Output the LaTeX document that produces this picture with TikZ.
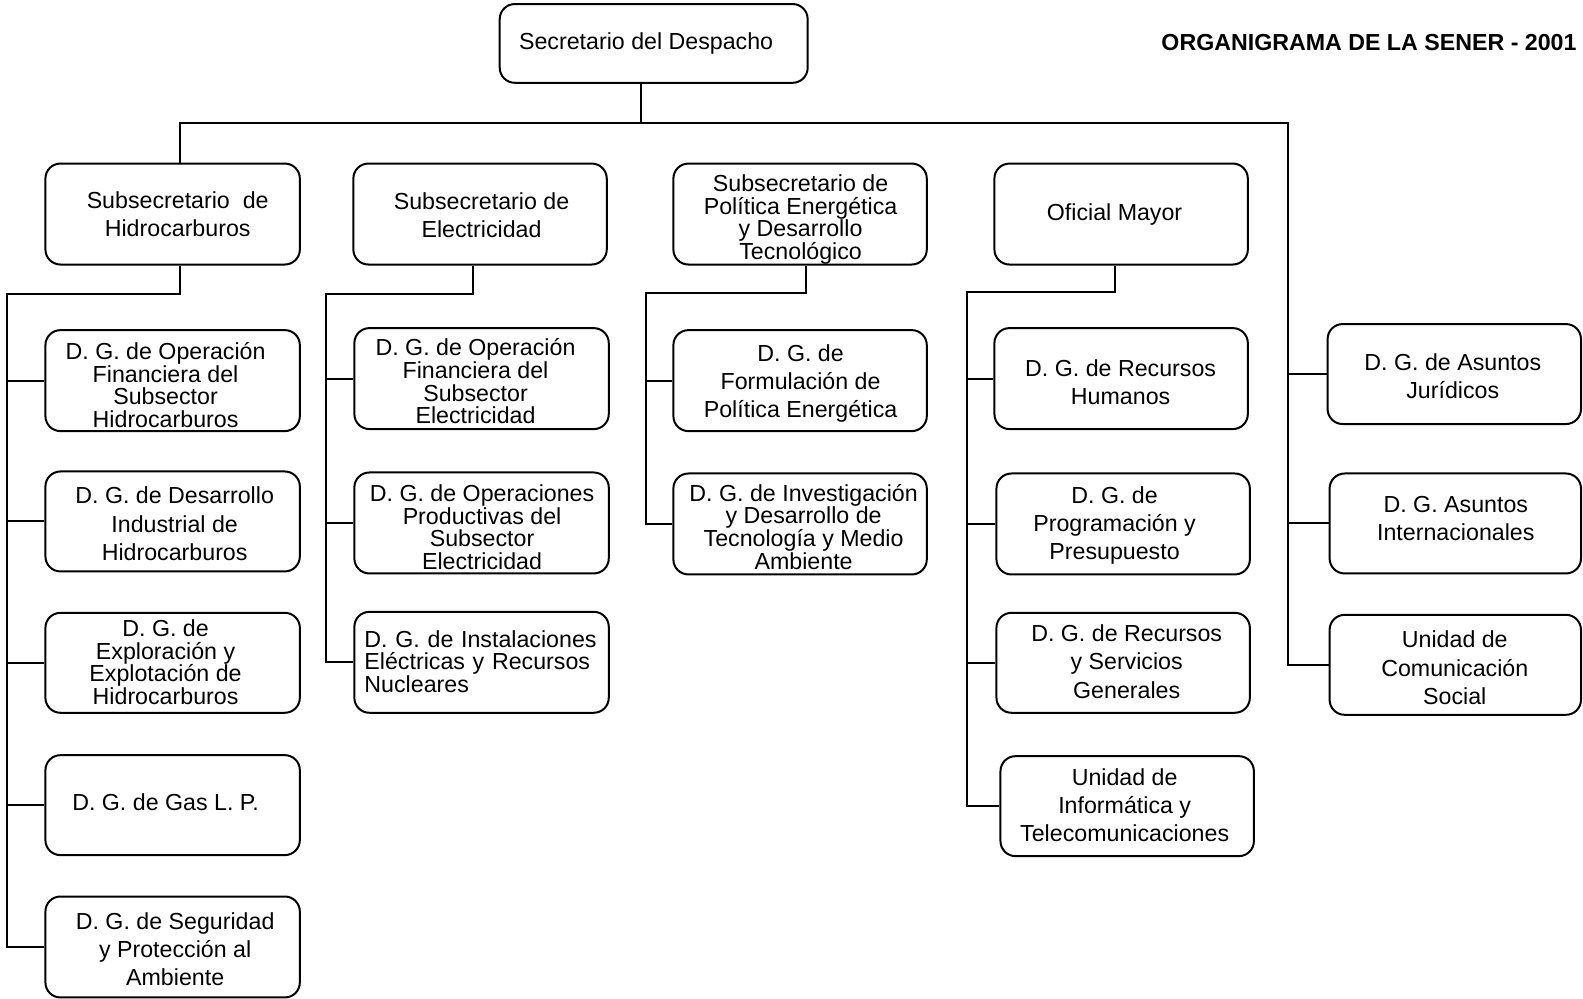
\documentclass[tikz,border=0pt]{standalone}
\usepackage{fontspec}
\setmainfont{Liberation Sans}
\usetikzlibrary{calc}

% fixed line pitch for the densely set labels
\newcommand{\tightskip}{\lineskiplimit=-20pt\relax}

\tikzset{
  orgbox/.style={draw, rounded corners=7.5pt, line width=1pt, inner sep=0pt},
  lbl/.style={inner sep=0pt, align=center, font=\fontsize{11.6}{14.1}\selectfont},
  lbltight/.style={inner sep=0pt, align=center,
    font={\fontsize{11.6}{11.3}\selectfont\tightskip}},
  wire/.style={line width=1pt},
  heading/.style={inner sep=0pt, anchor=east, font=\fontsize{11.6}{14}\selectfont\bfseries},
}

% \orgunit{name}{x1}{y1}{x2}{y2}: an empty rounded frame spanning the given corners
\newcommand{\orgunit}[5]{%
  \node[orgbox, minimum width={(#4-#2)*0.50478pt}, minimum height={(#5-#3)*0.50478pt}]
    (#1) at ({(#2+#4)/2},{(#3+#5)/2}) {};}

\begin{document}
\begin{tikzpicture}[x=0.50478pt, y=-0.50478pt]
\useasboundingbox (0,0) rectangle (1568,989);

% ---- frames ----
\orgunit{top}{495}{4}{800}{82}
\orgunit{s1}{45}{162}{297}{262}
\orgunit{s2}{350}{162}{601}{262}
\orgunit{s3}{667}{162}{918}{262}
\orgunit{s4}{985}{162}{1236}{262}

\orgunit{c1}{45}{327}{297}{427}
\orgunit{c2}{45}{467}{297}{566}
\orgunit{c3}{45}{607}{297}{706}
\orgunit{c4}{45}{748}{297}{847}
\orgunit{c5}{45}{888}{297}{988}

\orgunit{d1}{351}{325}{603}{425}
\orgunit{d2}{351}{468}{603}{568}
\orgunit{d3}{351}{606}{603}{706}

\orgunit{e1}{667}{327}{918}{427}
\orgunit{e2}{667}{469}{918}{569}

\orgunit{f1}{985}{325}{1236}{425}
\orgunit{f2}{987}{469}{1238}{569}
\orgunit{f3}{987}{607}{1238}{706}
\orgunit{f4}{991}{749}{1242}{848}

\orgunit{g1}{1315}{321}{1566}{420}
\orgunit{g2}{1317}{469}{1566}{568}
\orgunit{g3}{1317}{609}{1566}{708}

% ---- labels ----
\node[heading] (title) at (1562,44) {\strut ORGANIGRAMA DE LA SENER - 2001};
\node[lbl] (top-t) at (640,43) {\strut Secretario del Despacho};

\node[lbl] (s1-t) at (176,215) {\strut Subsecretario\ \ de\\Hidrocarburos\strut};
\node[lbl] (s2-t) at (477,216) {\strut Subsecretario de\\Electricidad\strut};
\node[lbltight] (s3-t) at (793,218.5) {\strut Subsecretario de\\Política Energética\\y Desarrollo\\Tecnológico\strut};
\node[lbl] (s4-t) at (1104,213) {\strut Oficial Mayor};

\node[lbltight] (c1-t) at (164,384.5) {\strut D. G. de Operación\\Financiera del\\Subsector\\Hidrocarburos\strut};
\node[lbl] (c2-t) at (173,521.5) {\strut D. G. de Desarrollo\\Industrial de\\Hidrocarburos\strut};
\node[lbltight] (c3-t) at (164,659) {\strut D. G. de\\Exploración y\\Explotación de\\Hidrocarburos\strut};
\node[lbl] (c4-t) at (164,797) {\strut D. G. de Gas L. P.};
\node[lbl] (c5-t) at (173.5,943) {\strut D. G. de Seguridad\\y Protección al\\Ambiente\strut};

\node[lbltight] (d1-t) at (471,381) {\strut D. G. de Operación\\Financiera del\\Subsector\\Electricidad\strut};
\node[lbltight] (d2-t) at (477.5,525.5) {\strut D. G. de Operaciones\\Productivas del\\Subsector\\Electricidad\strut};
\node[lbltight, align=left, text width=117.1pt] (d3-t) at (477,658.5) {\strut D. G. de Instalaciones\\Eléctricas y Recursos\\Nucleares\strut};

\node[lbl] (e1-t) at (793,380.5) {\strut D. G. de\\Formulación de\\Política Energética\strut};
\node[lbltight] (e2-t) at (796,525) {\strut D. G. de Investigación\\y Desarrollo de\\Tecnología y Medio\\Ambiente\strut};

\node[lbl] (f1-t) at (1110,381) {\strut D. G. de Recursos\\Humanos\strut};
\node[lbl] (f2-t) at (1104,521) {\strut D. G. de\\Programación y\\Presupuesto\strut};
\node[lbl] (f3-t) at (1116,658) {\strut D. G. de Recursos\\y Servicios\\Generales\strut};
\node[lbl] (f4-t) at (1114,800) {\strut Unidad de\\Informática y\\Telecomunicaciones\strut};

\node[lbl] (g1-t) at (1439,375) {\strut D. G. de Asuntos\\Jurídicos\strut};
\node[lbl] (g2-t) at (1442,516) {\strut D. G. Asuntos\\Internacionales\strut};
\node[lbl] (g3-t) at (1441,664) {\strut Unidad de\\Comunicación\\Social\strut};

% ---- main bus ----
\coordinate (bar) at (635,122);
\coordinate (barL) at (178,122);
\coordinate (barR) at (1276,122);
\draw[wire] (top.south -| bar) -- (bar);
\draw[wire] (s1.north -| barL) -- (barL) -- (barR) -- (barR |- g3.west) -- (g3.west);
\foreach \n in {g1,g2} \draw[wire] (barR |- \n.west) -- (\n.west);

% ---- Hidrocarburos ----
\coordinate (h1) at (178,291);
\coordinate (h1L) at (7,291);
\draw[wire] (s1.south -| h1) -- (h1) -- (h1L) -- (h1L |- c5.west) -- (c5.west);
\foreach \n in {c1,c2,c3,c4} \draw[wire] (h1L |- \n.west) -- (\n.west);

% ---- Electricidad ----
\coordinate (h2) at (469,291);
\coordinate (h2L) at (323,291);
\draw[wire] (s2.south -| h2) -- (h2) -- (h2L) -- (h2L |- d3.west) -- (d3.west);
\foreach \n in {d1,d2} \draw[wire] (h2L |- \n.west) -- (\n.west);

% ---- Politica Energetica ----
\coordinate (h3) at (798,290);
\coordinate (h3L) at (640,290);
\draw[wire] (s3.south -| h3) -- (h3) -- (h3L) -- (h3L |- e2.west) -- (e2.west);
\draw[wire] (h3L |- e1.west) -- (e1.west);

% ---- Oficial Mayor ----
\coordinate (h4) at (1104,289);
\coordinate (h4L) at (958,289);
\draw[wire] (s4.south -| h4) -- (h4) -- (h4L) -- (h4L |- f4.west) -- (f4.west);
\foreach \n in {f1,f2,f3} \draw[wire] (h4L |- \n.west) -- (\n.west);
\end{tikzpicture}
\end{document}
